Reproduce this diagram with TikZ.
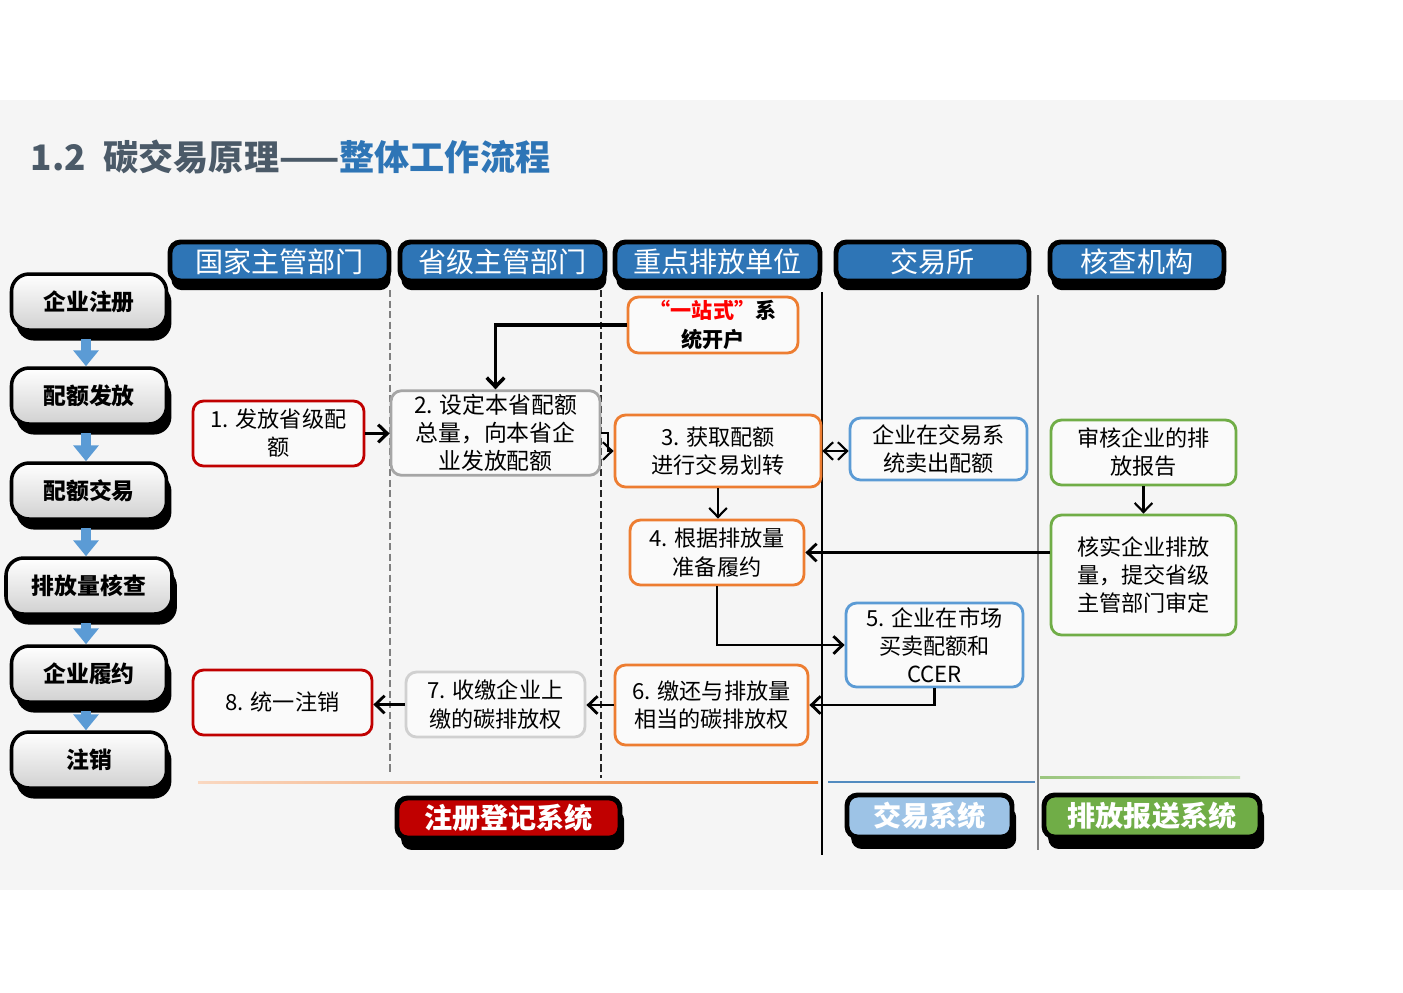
\documentclass[tikz,border=0pt]{standalone}
\usepackage{fontspec}
\setmainfont{Noto Sans CJK SC}
\definecolor{ctBlue}{HTML}{2E75B6}
\definecolor{ctSlate}{HTML}{4B5A68}
\definecolor{ctPanel}{HTML}{F5F5F5}
\definecolor{ctArrow}{HTML}{5B9BD5}
\definecolor{ctRed}{HTML}{C00000}
\definecolor{ctOrange}{HTML}{ED7D31}
\definecolor{ctGray}{HTML}{A6A6A6}
\definecolor{ctLight}{HTML}{D0D0D0}
\definecolor{ctSky}{HTML}{9DC3E6}
\definecolor{ctGreen}{HTML}{70AD47}
\usetikzlibrary{calc,positioning,arrows.meta,shadows}

\tikzset{
  lanehead/.style={fill=ctBlue, draw=black, line width=1.4pt, rounded corners=3pt,
    text=white, font=\fontsize{8}{9}\selectfont, minimum height=0.39cm, inner sep=0pt,
    drop shadow={shadow xshift=0.4pt, shadow yshift=-2.6pt, fill=black, opacity=1}},
  stepbox/.style={top color=white, bottom color=black!18, draw=black, line width=1pt,
    rounded corners=5pt, font=\fontsize{6.5}{8}\selectfont\bfseries,
    minimum width=1.55cm, minimum height=0.56cm, inner sep=0pt,
    drop shadow={shadow xshift=1.4pt, shadow yshift=-3pt, fill=black, opacity=1}},
  procbox/.style={fill=white!50!ctPanel, line width=0.8pt, rounded corners=3pt, align=center,
    inner sep=1pt, font=\fontsize{6.3}{8}\selectfont},
  sysbtn/.style={draw=black, line width=1.4pt, rounded corners=3pt, text=white,
    font=\fontsize{8}{9}\selectfont\bfseries, inner sep=0pt,
    drop shadow={shadow xshift=1.2pt, shadow yshift=-3.4pt, fill=black, opacity=1}},
  flow/.style={-{Straight Barb[length=2.6pt,width=5pt]}, line width=0.6pt},
  stepflow/.style={ctArrow, line width=2.6pt, -{Triangle[width=7pt,length=4.5pt]}},
}

\begin{document}
\begin{tikzpicture}[y=-1cm]
  \useasboundingbox (0,0) rectangle (14.03,9.92);
  % panel
  \fill[ctPanel] (0,1.00) rectangle (14.03,8.90);
  % title
  \node[anchor=base west, font=\fontsize{10}{12}\selectfont\bfseries, text=ctSlate, inner sep=0pt]
    (title) at (0.30,1.70) {1.2\enspace 碳交易原理——\textcolor{ctBlue}{整体工作流程}};

  % lane headers
  \node[lanehead, minimum width=2.19cm] (hNat)  at (2.795,2.615) {国家主管部门};
  \node[lanehead, minimum width=2.05cm] (hProv) at (5.025,2.615) {省级主管部门};
  \node[lanehead, minimum width=2.05cm] (hUnit) at (7.175,2.615) {重点排放单位};
  \node[lanehead, minimum width=1.93cm] (hExch) at (9.325,2.615) {交易所};
  \node[lanehead, minimum width=1.74cm] (hVer)  at (11.37,2.615) {核查机构};

  % lane dividers
  \draw[gray, line width=0.6pt, dash pattern=on 2pt off 1pt] (3.90,2.90) -- (3.90,7.75);
  \draw[black!85, line width=0.6pt, dash pattern=on 2pt off 1pt] (6.01,2.90) -- (6.01,7.78);
  \draw[black, line width=0.8pt] (8.22,2.92) -- (8.22,8.55);
  \draw[gray, line width=0.6pt] (10.38,2.95) -- (10.38,8.50);

  % step column
  \node[stepbox] (sReg) at (0.89,3.02) {企业注册};
  \node[stepbox] (sIss) at (0.89,3.96) {配额发放};
  \node[stepbox] (sTrd) at (0.89,4.91) {配额交易};
  \node[stepbox, minimum width=1.66cm] (sChk) at (0.89,5.86) {排放量核查};
  \node[stepbox] (sCmp) at (0.89,6.74) {企业履约};
  \node[stepbox] (sCan) at (0.89,7.60) {注销};
  \foreach \a/\b in {sReg/sIss, sIss/sTrd, sTrd/sChk, sChk/sCmp, sCmp/sCan}
    \draw[stepflow] ($(\a.south)+(-0.03,0.07)$) -- ($(\b.north)+(-0.03,0)$);

  % process boxes
  \node[procbox, draw=ctOrange, minimum width=1.70cm, minimum height=0.56cm,
    font=\fontsize{6}{8}\selectfont\bfseries] (one) at (7.13,3.25)
    {\textcolor{red}{“一站式”}系\\统开户};
  \node[procbox, draw=ctRed, minimum width=1.71cm, minimum height=0.65cm] (b1) at (2.785,4.335)
    {1. 发放省级配\\额};
  \node[procbox, draw=ctGray, minimum width=2.09cm, minimum height=0.74cm,
    font=\fontsize{6.5}{8}\selectfont] (b2) at (4.955,4.33)
    {2. 设定本省配额\\总量，向本省企\\业发放配额};
  \node[procbox, draw=ctOrange, minimum width=2.06cm, minimum height=0.72cm] (b3) at (7.18,4.51)
    {3. 获取配额\\进行交易划转};
  \node[procbox, draw=ctOrange, minimum width=1.74cm, minimum height=0.65cm] (b4) at (7.17,5.525)
    {4. 根据排放量\\准备履约};
  \node[procbox, draw=ctArrow, minimum width=1.77cm, minimum height=0.62cm] (sell) at (9.385,4.49)
    {企业在交易系\\统卖出配额};
  \node[procbox, draw=ctArrow, minimum width=1.77cm, minimum height=0.84cm] (b5) at (9.345,6.45)
    {5. 企业在市场\\买卖配额和\\CCER};
  \node[procbox, draw=ctGreen, minimum width=1.85cm, minimum height=0.65cm] (audit) at (11.435,4.525)
    {审核企业的排\\放报告};
  \node[procbox, draw=ctGreen, minimum width=1.85cm, minimum height=1.20cm] (verify) at (11.435,5.75)
    {核实企业排放\\量，提交省级\\主管部门审定};
  \node[procbox, draw=ctOrange, minimum width=1.93cm, minimum height=0.80cm] (b6) at (7.115,7.05)
    {6. 缴还与排放量\\相当的碳排放权};
  \node[procbox, draw=ctLight, minimum width=1.79cm, minimum height=0.65cm] (b7) at (4.955,7.045)
    {7. 收缴企业上\\缴的碳排放权};
  \node[procbox, draw=ctRed, minimum width=1.79cm, minimum height=0.65cm] (b8) at (2.825,7.025)
    {8. 统一注销};

  % connectors
  \draw[flow, line width=1pt] (one.west) -| (b2.north);
  \draw[flow, line width=0.9pt] (b1.east) -- (b1.east -| b2.west);
  \draw[flow] (b2.east) -- ++(0.07,0) |- (b3.west);
  \draw[flow, {Straight Barb[length=2.6pt,width=5pt]}-{Straight Barb[length=2.6pt,width=5pt]}]
    (b3.east) -- (b3.east -| sell.west);
  \draw[flow] (b3.south) -- (b3.south |- b4.north);
  \draw[flow] (audit.south) -- (verify.north);
  \draw[flow, line width=0.8pt] (verify.west |- b4.east) -- (b4.east);
  \draw[flow, line width=0.8pt] (b4.south) |- (b5.west);
  \draw[flow, line width=0.8pt] (b5.south) |- (b6.east);
  \draw[flow, line width=0.8pt] (b6.west) -- (b6.west -| b7.east);
  \draw[flow, line width=0.8pt] (b7.west) -- (b7.west -| b8.east);

  % system bands
  \shade[left color=ctOrange!30, right color=ctOrange] (1.98,7.81) rectangle (8.18,7.83);
  \fill[ctArrow!90!black] (8.28,7.81) rectangle (10.35,7.83);
  \shade[left color=ctGreen!70, right color=ctGreen!40] (10.40,7.76) rectangle (12.40,7.78);
  \node[sysbtn, fill=ctRed, minimum width=2.23cm, minimum height=0.40cm] (sysReg) at (5.085,8.18) {注册登记系统};
  \node[sysbtn, fill=ctSky, minimum width=1.65cm, minimum height=0.42cm] (sysTrd) at (9.295,8.16) {交易系统};
  \node[sysbtn, fill=ctGreen, minimum width=2.16cm, minimum height=0.42cm] (sysRep) at (11.52,8.16) {排放报送系统};
\end{tikzpicture}
\end{document}
